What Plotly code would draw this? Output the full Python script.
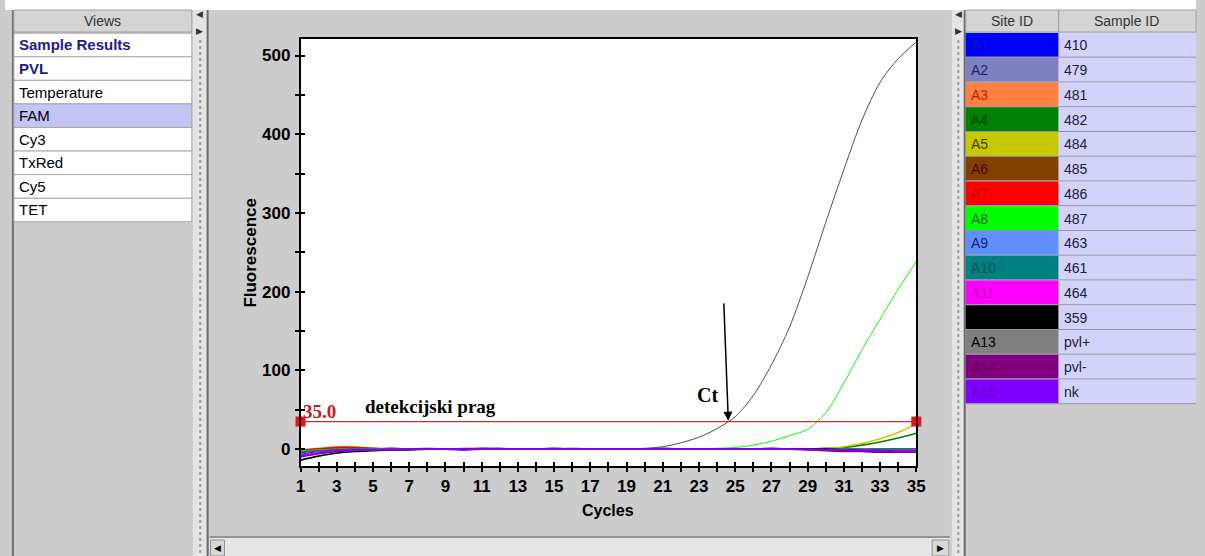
import plotly.graph_objects as go

W, H = 1205, 556

# ---------------- data ----------------
cycles = list(range(1, 36))

site_ids = ["A1", "A2", "A3", "A4", "A5", "A6", "A7", "A8", "A9", "A10",
            "A11", "", "A13", "A14", "A15"]
sample_ids = ["410", "479", "481", "482", "484", "485", "486", "487", "463",
              "461", "464", "359", "pvl+", "pvl-", "nk"]
site_colors = ["#0000ff", "#8080c0", "#ff8040", "#008000", "#c8c800", "#804000",
               "#ff0000", "#00ff00", "#6090ff", "#008080", "#ff00ff", "#000000",
               "#808080", "#800080", "#8000ff"]
site_text_colors = ["#1010b0", "#202070", "#c02000", "#004000", "#404000", "#500000",
                    "#c00000", "#006000", "#102080", "#005050", "#c000c0", "#000000",
                    "#000000", "#600060", "#6000c0"]

s_410 = [-6, -3, -1, 0, 0, 1, 0, 0, 0, -1, 0, 0, 0, 0, 1, 0, 0, 0, 0, 0, 1, 0, 0, 0, 0, 0, 1, 0, 0, 0, 0, 0, -1, -1, -1]
s_479 = [-4, -2, -1, 0, 0, 0, 0, 1, 0, 0, 0, 0, 0, 0, 0, 1, 0, 0, 0, 0, 0, 0, 0, 0, 0, 0, 0, 0, 0, 0, -1, -1, -1, -2, -2]
s_481 = [-2, 1, 3, 3, 1, 0, 0, 0, 0, 1, 1, 0, 0, 0, 0, 0, 0, 0, 0, 0, 0, 0, 0, 0, 0, 0, 0, 0, 0, 0, 0, 0, 0, 0, 0]
s_482 = [-3, -1, 0, 0, 0, 0, 0, 0, 0, 0, 0, 0, 0, 0, 0, 0, 0, 0, 0, 0, 0, 0, 0, 0, 0, 0, 0, 0, 0, 1, 2, 5, 9, 14, 20]
s_484 = [-2, -1, 0, 0, 0, 0, 0, 0, 0, 0, 0, 0, 0, 0, 0, 0, 0, 0, 0, 0, 0, 0, 0, 0, 0, 0, 0, 0, 0, 1, 3, 7, 13, 21, 32]
s_485 = [-3, 0, 2, 2, 1, 0, 0, 0, 0, 0, 1, 1, 0, 0, 0, 0, 0, 0, 0, 0, 0, 0, 0, 0, 0, 0, 0, 0, 0, 0, 0, 0, 0, 0, 0]
s_486 = [-1, 0, 1, 1, 0, 0, 0, 0, 0, 0, 0, 0, 0, 0, 0, 0, 0, 0, 0, 0, 0, 0, 0, 0, 0, 0, 0, 0, 0, 0, 0, 0, 0, 0, 0]
s_487 = [-2, -1, 0, 0, 0, 0, 0, 0, 0, 0, 0, 0, 0, 0, 0, 0, 0, 0, 0, 0, 0, 0, 0, 1, 2, 5, 10, 17, 25, 46, 84, 126, 165, 203, 238]
s_463 = [-5, -2, -1, 0, 0, 0, 0, 0, 0, 0, 0, 0, 0, 0, 0, 0, 0, 0, 0, 0, 0, 0, 0, 0, 0, 0, 0, 0, 0, 0, 0, 0, 0, -1, -1]
s_461 = [-4, -2, -1, 0, 0, 0, 0, 0, 0, 0, 0, 0, 0, 0, 0, 0, 0, 0, 0, 0, 0, 0, 0, 0, 0, 0, 0, 0, 0, 0, 0, 0, 0, 0, 0]
s_464 = [-8, -5, -3, -2, -1, 0, 0, 0, 0, 0, 0, 0, 0, 0, 0, 0, 0, 0, 0, 0, 0, 0, 0, 0, 0, 0, 0, 0, 0, 0, -1, -1, -2, -2, -2]
s_359 = [-14, -9, -5, -3, -2, -1, -1, 0, 0, 0, 0, 0, 0, 0, 0, 0, 0, 0, 0, 0, 0, 0, 0, 0, 0, 0, 0, 0, 0, 0, -1, -2, -2, -3, -3]
s_pvlp = [-5, -2, -1, 0, 0, 0, 0, 0, 0, 0, 0, 0, 0, 0, 0, 0, 0, 0, 0, 1, 3, 8, 15, 26, 41, 68, 107, 155, 218, 288, 355, 418, 466, 496, 517]
s_pvlm = [-10, -6, -3, -2, -1, -1, 0, 0, 0, 0, 0, 0, 0, 0, 0, 0, 0, 0, 0, 0, 0, 0, 0, 0, 0, 0, 0, 0, -1, -2, -3, -3, -4, -4, -4]
s_nk = [-9, -5, -2, -1, -1, 0, 0, 0, 0, 0, 0, 0, 0, 0, 0, 0, 0, 0, 0, 0, 0, 0, 0, 0, 0, 0, 0, 0, 0, -1, -1, -2, -2, -3, -3]

series = [s_410, s_479, s_481, s_482, s_484, s_485, s_486, s_487, s_463,
          s_461, s_464, s_359, s_pvlp, s_pvlm, s_nk]

threshold = 35.0
ct_cycle = 24.67
views = ["Sample Results", "PVL", "Temperature", "FAM", "Cy3", "TxRed", "Cy5", "TET"]

x_range = [1, 35]
y_range = [-21.5, 521]
y_ticks = [0, 100, 200, 300, 400, 500]

# ---------------- helpers (page pixels -> paper fractions) ----------------
def px(x):
    return x / W


def py(y):
    return 1 - y / H


shapes = []
ann = []


def rect(x0, y0, x1, y1, fill, line=None, lw=0, layer="above"):
    shapes.append(dict(type="rect", xref="paper", yref="paper",
                       x0=px(x0), x1=px(x1), y0=py(y1), y1=py(y0),
                       fillcolor=fill, line=dict(color=line or fill, width=lw),
                       layer=layer))


def line(x0, y0, x1, y1, color, lw=1, dash="solid"):
    shapes.append(dict(type="line", xref="paper", yref="paper",
                       x0=px(x0), x1=px(x1), y0=py(y0), y1=py(y1),
                       line=dict(color=color, width=lw, dash=dash)))


def text(x, y, s, size=14, color="#000", family="Liberation Sans", weight="normal",
         xanchor="left", angle=0):
    ann.append(dict(xref="paper", yref="paper", x=px(x), y=py(y), text=s,
                    showarrow=False, xanchor=xanchor, yanchor="middle",
                    textangle=angle,
                    font=dict(size=size, color=color, family=family, weight=weight)))


# ---------------- UI chrome ----------------
rect(0, 0, W, 10, "#ffffff")

# left panel
line(8, 10, 8, H, "#707070", 2)
rect(9, 10, 189, 32, "#d4d4d4", "#a0a0a0", 1)
text(99, 21, "Views", 14, "#333333", xanchor="center")
row_top, row_h = 33.2, 23.57
for i, v in enumerate(views):
    y0 = row_top + i * row_h
    fill = "#c4c4f4" if v == "FAM" else "#ffffff"
    rect(9, y0, 189, y0 + row_h, fill, "#a8a8a8", 1)
    bold = i < 2
    text(12, y0 + row_h / 2, v, 15, "#1c1c8c" if bold else "#000000",
         weight="bold" if bold else "normal")

# left splitter
rect(190, 10, 205, H, "#e4e4e4")
line(197.5, 40, 197.5, H, "#9a9a9a", 2, "dot")
line(205, 10, 205, H, "#6a6a6a", 2)
text(197, 14, "◀", 9, "#333333", xanchor="center")
text(197, 31, "▶", 9, "#333333", xanchor="center")

# bottom scrollbar of centre panel
line(207, 537, 956, 537, "#808080", 1.5)
rect(207, 538, 956, H, "#e6e6e6")
rect(208, 540, 222, H, "#d8d8d8", "#909090", 1)
text(215, 548, "◀", 9, "#000000", xanchor="center")
rect(938, 540, 955, H, "#d8d8d8", "#909090", 1)
text(946.5, 548, "▶", 9, "#000000", xanchor="center")

# right splitter
rect(958, 10, 971, H, "#e4e4e4")
line(964.5, 40, 964.5, H, "#9a9a9a", 2, "dot")
line(971, 10, 971, H, "#6a6a6a", 2)
text(965, 14, "◀", 9, "#333333", xanchor="center")
text(965, 31, "▶", 9, "#333333", xanchor="center")

# right table
rect(972, 10, 1066, 32, "#d4d4d4", "#a0a0a0", 1)
rect(1066, 10, W, 32, "#d4d4d4", "#a0a0a0", 1)
text(1019, 21, "Site ID", 14, "#333333", xanchor="center")
text(1135, 21, "Sample ID", 14, "#333333", xanchor="center")
r_top, r_h = 33, 24.75
for i in range(len(site_ids)):
    y0 = r_top + i * r_h
    rect(972, y0, 1066, y0 + r_h - 1, site_colors[i])
    rect(1066, y0, W, y0 + r_h - 1, "#d2d2fa")
    line(972, y0 + r_h - 0.5, W, y0 + r_h - 0.5, "#9090a8", 1)
    text(975, y0 + r_h / 2, site_ids[i], 14, site_text_colors[i])
    text(1069, y0 + r_h / 2, sample_ids[i], 14, "#202040")

# ---------------- chart ----------------
fig = go.Figure()
for i in range(len(series)):
    big = max(series[i]) > 100
    fig.add_trace(go.Scatter(x=cycles, y=series[i], mode="lines",
                             line=dict(color="#505050" if sample_ids[i] == "pvl+" else site_colors[i],
                                       width=1.0 if big else 1.6, shape="spline",
                                       smoothing=0.8),
                             name=sample_ids[i], showlegend=False))

fig.add_trace(go.Scatter(x=[x_range[0], x_range[1]], y=[threshold, threshold],
                         mode="lines+markers", cliponaxis=False,
                         line=dict(color="#c83030", width=1.2),
                         marker=dict(symbol="square", size=10, color="#ee1010"),
                         showlegend=False))
# dummy trace for cross-tick overlay axes
fig.add_trace(go.Scatter(x=[None], y=[None], xaxis="x2", yaxis="y2", showlegend=False))

xdom = [px(299), px(922)]
ydom = [py(466), py(39)]
tickfont = dict(family="Liberation Sans", size=17, color="#000000", weight="bold")

fig.update_layout(
    width=W, height=H, autosize=False, margin=dict(l=0, r=0, t=0, b=0),
    paper_bgcolor="#cccccc", plot_bgcolor="#ffffff",
    shapes=shapes,
    xaxis=dict(domain=xdom, range=x_range, tick0=1, dtick=2, ticks="outside",
               ticklen=4, tickwidth=1.5, tickcolor="#000", showgrid=False, zeroline=False,
               showline=True, mirror=True, linecolor="#000", linewidth=1.5,
               tickfont=tickfont, ticklabelstandoff=0,
               minor=dict(dtick=1, tick0=1, ticks="outside", ticklen=4, tickwidth=1.5,
                          tickcolor="#000", showgrid=False)),
    yaxis=dict(domain=ydom, range=y_range, tickvals=y_ticks, ticks="outside",
               ticklen=4, tickwidth=1.5, tickcolor="#000", showgrid=False, zeroline=False,
               showline=True, mirror=True, linecolor="#000", linewidth=1.5,
               tickfont=tickfont, ticklabelstandoff=1,
               minor=dict(dtick=50, tick0=0, ticks="outside", ticklen=4, tickwidth=1.5,
                          tickcolor="#000", showgrid=False)),
    xaxis2=dict(domain=xdom, range=x_range, overlaying="x", anchor="y", tick0=1, dtick=1,
                ticks="inside", ticklen=4, tickwidth=1.5, tickcolor="#000",
                showticklabels=False, showgrid=False, zeroline=False, showline=False),
    yaxis2=dict(domain=ydom, range=y_range, overlaying="y", anchor="x", tick0=0, dtick=50,
                ticks="inside", ticklen=4, tickwidth=1.5, tickcolor="#000",
                showticklabels=False, showgrid=False, zeroline=False, showline=False),
)

# axis titles and chart annotations
text(247.5, 253, "Fluorescence", 17, "#000000", weight="bold", xanchor="center", angle=-90)
text(610, 510, "Cycles", 16, "#000000", weight="bold", xanchor="center")
text(299, 411, "35.0", 19, "#c02020", family="Liberation Serif", weight="bold")
text(362, 406, "detekcijski prag", 19, "#000000", family="Liberation Serif", weight="bold")

ann.append(dict(xref="x", yref="y", x=ct_cycle - 0.05, y=threshold + 1,
                axref="x", ayref="y", ax=ct_cycle - 0.3, ay=187,
                showarrow=True, arrowhead=2, arrowsize=1.2, arrowwidth=1.5,
                arrowcolor="#000000", text=""))
ann.append(dict(xref="x", yref="y", x=23.49, y=68.6, text="Ct", showarrow=False,
                font=dict(family="Liberation Serif", size=20, color="#000", weight="bold")))

fig.update_layout(annotations=ann)
fig.write_html(
    "out.html",
    config={"displayModeBar": False, "responsive": False},
    post_script=("document.documentElement.style.overflow='hidden';"
                 "document.body.style.margin='0';document.body.style.overflow='hidden';"),
)
